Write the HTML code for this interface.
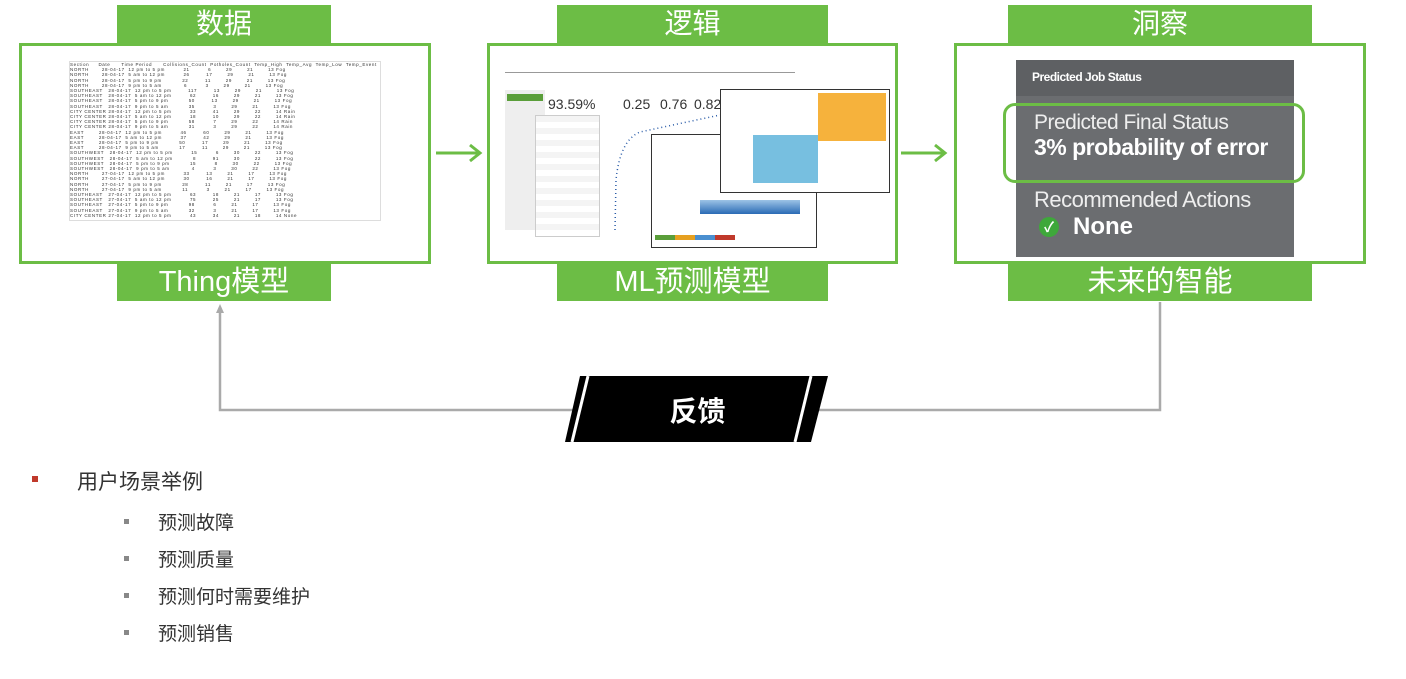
<!DOCTYPE html>
<html><head><meta charset="utf-8"><style>
body{margin:0;width:1406px;height:679px;background:#fff;position:relative;overflow:hidden;font-family:"Liberation Sans","Noto Sans CJK SC",sans-serif}
.a{position:absolute}
.lab{position:absolute;background:#6cbd45;color:#fff;text-align:center;font-size:28px;line-height:38px;height:38px}
.box{position:absolute;border:3px solid #6cbd45;box-sizing:border-box;background:#fff}
.tbl{font-size:4.5px;line-height:5.2px;color:#333;white-space:pre;font-family:"Liberation Sans",sans-serif;letter-spacing:0.6px;overflow:hidden}
</style></head><body>
<div class="lab" style="left:117px;top:5px;width:214px">数据</div>
<div class="lab" style="left:557px;top:5px;width:271px">逻辑</div>
<div class="lab" style="left:1008px;top:5px;width:304px">洞察</div>
<div class="box" style="left:19px;top:43px;width:412px;height:221px"></div>
<div class="box" style="left:487px;top:43px;width:411px;height:221px"></div>
<div class="box" style="left:954px;top:43px;width:412px;height:221px"></div>
<div class="lab" style="left:117px;top:263px;width:214px;font-size:29px">Thing模型</div>
<div class="lab" style="left:557px;top:263px;width:271px;font-size:29px">ML预测模型</div>
<div class="lab" style="left:1008px;top:263px;width:304px;font-size:29px">未来的智能</div>

<!-- table -->
<div class="a tbl" style="left:69px;top:61px;width:310px;height:158px;border:1px solid #ddd">Section     Date      Time Period      Collisions_Count  Potholes_Count  Temp_High  Temp_Avg  Temp_Low  Temp_Event
NORTH       28-04-17  12 pm to 5 pm          21          6        29        21        13 Fog
NORTH       28-04-17  5 am to 12 pm          26         17        29        21        13 Fog
NORTH       28-04-17  5 pm to 9 pm           22         11        29        21        13 Fog
NORTH       28-04-17  9 pm to 5 am            6          3        29        21        13 Fog
SOUTHEAST   28-04-17  12 pm to 5 pm         117         13        29        21        13 Fog
SOUTHEAST   28-04-17  5 am to 12 pm          62         16        29        21        13 Fog
SOUTHEAST   28-04-17  5 pm to 9 pm           50         13        29        21        13 Fog
SOUTHEAST   28-04-17  9 pm to 5 am           35          3        29        21        13 Fog
CITY CENTER 28-04-17  12 pm to 5 pm          33         41        29        22        14 Rain
CITY CENTER 28-04-17  5 am to 12 pm          18         10        29        22        14 Rain
CITY CENTER 28-04-17  5 pm to 9 pm           58          7        29        22        14 Rain
CITY CENTER 28-04-17  9 pm to 5 am           31          3        29        22        14 Rain
EAST        28-04-17  12 pm to 5 pm          46         60        29        21        13 Fog
EAST        28-04-17  5 am to 12 pm          37         42        29        21        13 Fog
EAST        28-04-17  5 pm to 9 pm           50         17        29        21        13 Fog
EAST        28-04-17  9 pm to 5 am           17         11        29        21        13 Fog
SOUTHWEST   28-04-17  12 pm to 5 pm          15          6        30        22        13 Fog
SOUTHWEST   28-04-17  5 am to 12 pm           8         91        30        22        13 Fog
SOUTHWEST   28-04-17  5 pm to 9 pm           15          8        30        22        13 Fog
SOUTHWEST   28-04-17  9 pm to 5 am            4          3        30        22        13 Fog
NORTH       27-04-17  12 pm to 5 pm          33         13        21        17        13 Fog
NORTH       27-04-17  5 am to 12 pm          30         16        21        17        13 Fog
NORTH       27-04-17  5 pm to 9 pm           28         11        21        17        13 Fog
NORTH       27-04-17  9 pm to 5 am           11          3        21        17        13 Fog
SOUTHEAST   27-04-17  12 pm to 5 pm          63         18        21        17        13 Fog
SOUTHEAST   27-04-17  5 am to 12 pm          75         25        21        17        13 Fog
SOUTHEAST   27-04-17  5 pm to 9 pm           98          6        21        17        13 Fog
SOUTHEAST   27-04-17  9 pm to 5 am           32          3        21        17        13 Fog
CITY CENTER 27-04-17  12 pm to 5 pm          43         34        21        18        14 None</div>

<!-- middle dashboard -->
<div class="a" style="left:505px;top:72px;width:290px;height:1px;background:#999"></div>
<div class="a" style="left:505px;top:90px;width:40px;height:140px;background:#eee"></div>
<div class="a" style="left:507px;top:94px;width:36px;height:7px;background:#5a9e3a"></div>
<div class="a" style="left:548px;top:96px;font-size:14px;color:#333">93.59%</div>
<div class="a" style="left:623px;top:96px;font-size:14px;color:#333">0.25</div>
<div class="a" style="left:660px;top:96px;font-size:14px;color:#333">0.76</div>
<div class="a" style="left:694px;top:96px;font-size:14px;color:#333">0.82</div>
<div class="a" style="left:535px;top:115px;width:63px;height:120px;background:repeating-linear-gradient(#f4f4f4 0 6px,#fff 6px 12px);border:1px solid #ccc"></div>
<svg class="a" style="left:600px;top:110px" width="150" height="130"><path d="M15 120 L16 70 Q20 30 40 22 L120 5" stroke="#2a5ca8" fill="none" stroke-width="1.5" stroke-dasharray="1 3"/></svg>
<div class="a" style="left:651px;top:134px;width:164px;height:112px;border:1px solid #333;background:#fff"></div>
<div class="a" style="left:700px;top:200px;width:100px;height:14px;background:linear-gradient(#9cc3e6,#2a6bb5)"></div>
<div class="a" style="left:655px;top:235px;width:80px;height:5px;background:linear-gradient(90deg,#5a9e3a 25%,#e6a020 25% 50%,#4a8fd0 50% 75%,#c0392b 75%)"></div>
<div class="a" style="left:720px;top:89px;width:168px;height:102px;border:1px solid #333;background:#fff"></div>
<div class="a" style="left:818px;top:93px;width:68px;height:48px;background:#f6b23c"></div>
<div class="a" style="left:753px;top:135px;width:65px;height:48px;background:#77bfe0"></div>

<!-- right dark panel -->
<div class="a" style="left:1016px;top:60px;width:278px;height:197px;background:#6b6d70"></div>
<div class="a" style="left:1016px;top:60px;width:278px;height:36px;background:#5e6063"></div>
<div class="a" style="left:1032px;top:70px;font-size:12px;font-weight:bold;color:#fff;letter-spacing:-0.5px">Predicted Job Status</div>
<div class="a" style="left:1003px;top:103px;width:302px;height:80px;border:3px solid #6cbd45;border-radius:12px;box-sizing:border-box"></div>
<div class="a" style="left:1034px;top:111px;font-size:21px;color:#eee;letter-spacing:-0.5px">Predicted Final Status</div>
<div class="a" style="left:1034px;top:134px;font-size:23px;font-weight:bold;color:#fff;letter-spacing:-0.5px">3% probability of error</div>
<div class="a" style="left:1034px;top:187px;font-size:22px;color:#eee;letter-spacing:-0.5px">Recommended Actions</div>
<div class="a" style="left:1039px;top:217px;width:20px;height:20px;border-radius:50%;background:#3ea83a;color:#fff;font-size:14px;text-align:center;line-height:20px;font-weight:bold">✓</div>
<div class="a" style="left:1073px;top:213px;font-size:24px;font-weight:bold;color:#fff">None</div>

<!-- arrows -->
<svg class="a" style="left:0;top:0" width="1406" height="679">
<g stroke="#6cbd45" stroke-width="3" fill="none"><line x1="436" y1="153" x2="479" y2="153"/><polyline points="470,145 480,153 470,161"/>
<line x1="901" y1="153" x2="944" y2="153"/><polyline points="935,145 945,153 935,161"/></g>
<polyline points="220,310 220,410 1160,410 1160,302" stroke="#aaa" stroke-width="2.5" fill="none"/>
<polygon points="220,304 216,313 224,313" fill="#aaa"/>
<polygon points="580,376 828,376 811,442 565,442" fill="#000"/>
<line x1="572" y1="442" x2="588" y2="376" stroke="#fff" stroke-width="3"/>
<line x1="795" y1="442" x2="811" y2="376" stroke="#fff" stroke-width="3"/>
</svg>
<div class="a" style="left:650px;top:390px;width:95px;text-align:center;font-size:28px;font-weight:bold;color:#fff">反馈</div>

<!-- bullets -->
<div class="a" style="left:32px;top:476px;width:6px;height:6px;background:#c0392b"></div>
<div class="a" style="left:77px;top:466px;font-size:21px;color:#333">用户场景举例</div>
<div class="a" style="left:124px;top:519px;width:5px;height:5px;background:#888"></div>
<div class="a" style="left:158px;top:508px;font-size:19px;color:#333">预测故障</div>
<div class="a" style="left:124px;top:556px;width:5px;height:5px;background:#888"></div>
<div class="a" style="left:158px;top:545px;font-size:19px;color:#333">预测质量</div>
<div class="a" style="left:124px;top:593px;width:5px;height:5px;background:#888"></div>
<div class="a" style="left:158px;top:582px;font-size:19px;color:#333">预测何时需要维护</div>
<div class="a" style="left:124px;top:630px;width:5px;height:5px;background:#888"></div>
<div class="a" style="left:158px;top:619px;font-size:19px;color:#333">预测销售</div>
</body></html>
